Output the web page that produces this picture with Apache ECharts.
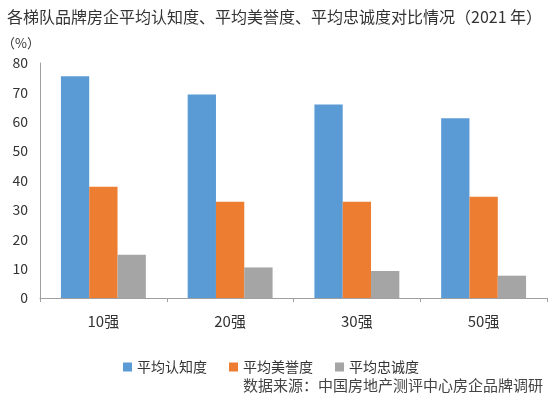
<!DOCTYPE html>
<html>
<head>
<meta charset="utf-8">
<script src="https://cdn.jsdelivr.net/npm/echarts@6/dist/echarts.min.js"></script>
<style>
  html, body { margin: 0; padding: 0; background: #fff; }
  #main { width: 550px; height: 402px; }
</style>
</head>
<body>
<div id="main"></div>
<script>
// 数据
var categories = ['10强', '20强', '30强', '50强'];
var seriesNames = ['平均认知度', '平均美誉度', '平均忠诚度'];
var cognition = [75.5, 69.3, 65.9, 61.2];
var reputation = [37.9, 32.8, 32.8, 34.5];
var loyalty = [14.7, 10.4, 9.2, 7.6];
var yTicks = [0, 10, 20, 30, 40, 50, 60, 70, 80];

var colors = ['#5b9bd5', '#ed7d31', '#a5a5a5'];
var font = '"Noto Sans CJK SC", sans-serif';

var chart = echarts.init(document.getElementById('main'));

var option = {
  color: colors,
  textStyle: { fontFamily: font },
  title: {
    text: '各梯队品牌房企平均认知度、平均美誉度、平均忠诚度对比情况（2021 年）',
    left: 2,
    top: 4,
    textStyle: { fontSize: 16, fontWeight: 'normal', color: '#333', fontFamily: font }
  },
  graphic: [
    {
      type: 'text',
      left: 2,
      top: 37,
      style: { text: '（%）', fontSize: 13, fill: '#333', fontFamily: font }
    },
    {
      type: 'text',
      right: 7,
      top: 378,
      style: { text: '数据来源：中国房地产测评中心房企品牌调研', fontSize: 15, fill: '#444', fontFamily: font }
    }
  ],
  legend: {
    data: seriesNames,
    top: 355,
    left: 118,
    itemWidth: 9,
    itemHeight: 9,
    itemGap: 22,
    icon: 'rect',
    textStyle: { fontSize: 14, color: '#333', fontFamily: font }
  },
  grid: { left: 40, right: 3, top: 63, bottom: 104 },
  xAxis: {
    type: 'category',
    data: categories,
    axisLine: { lineStyle: { color: '#a0a0a0' } },
    axisTick: { show: true, length: 4, lineStyle: { color: '#a0a0a0' } },
    axisLabel: { fontSize: 15, color: '#333', margin: 16 }
  },
  yAxis: {
    type: 'value',
    min: yTicks[0],
    max: yTicks[yTicks.length - 1],
    interval: 10,
    axisLine: { show: true, lineStyle: { color: '#a0a0a0' } },
    axisTick: { show: false },
    splitLine: { show: false },
    axisLabel: { fontSize: 14, color: '#333', margin: 12 }
  },
  series: [
    { name: seriesNames[0], type: 'bar', data: cognition, barGap: '0%', barCategoryGap: '33%' },
    { name: seriesNames[1], type: 'bar', data: reputation },
    { name: seriesNames[2], type: 'bar', data: loyalty }
  ]
};

chart.setOption(option);
</script>
</body>
</html>
